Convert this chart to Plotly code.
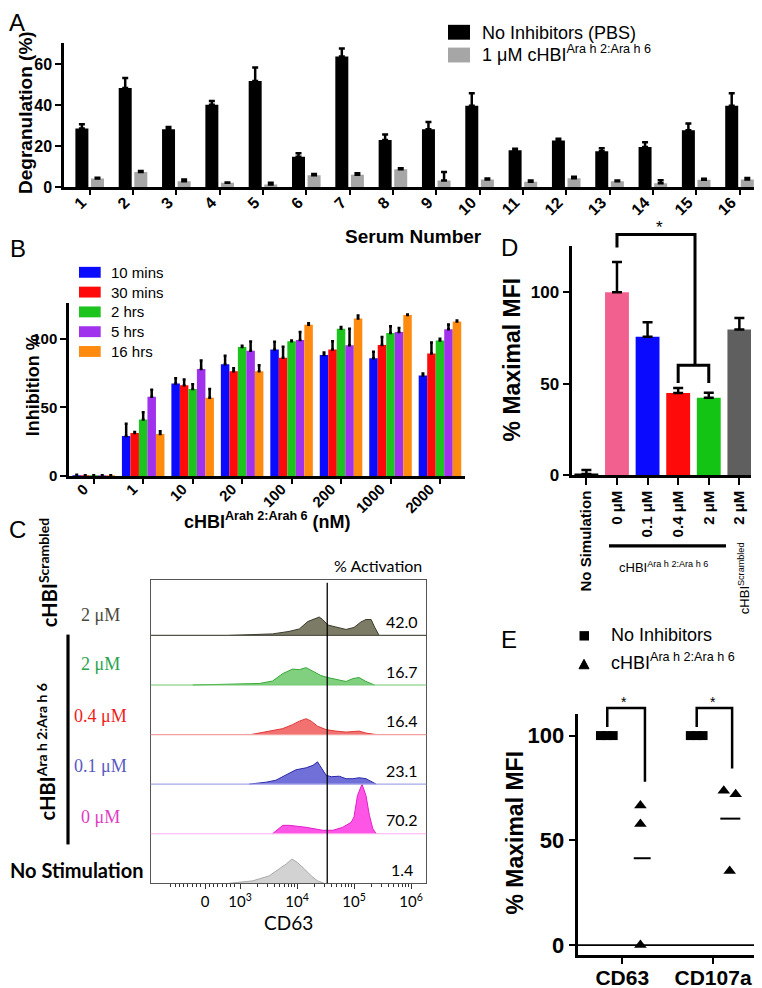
import numpy as np
import plotly.graph_objects as go

W, H = 762, 988
ARIAL = "Liberation Sans, Arial, sans-serif"
CAL = "Lato, Open Sans, sans-serif"
SERIF = "Liberation Serif, Times New Roman, serif"


def fx(p):
    return p / W


def fy(p):
    return 1 - p / H


def lin(rng, p0, p1):
    return lambda v: p0 + (v - rng[0]) / (rng[1] - rng[0]) * (p1 - p0)


# ---------------- Panel A data ----------------
serum_numbers = [str(i) for i in range(1, 17)]
degr_pbs = [28.6, 48.4, 28.3, 40.2, 51.8, 14.8, 63.7, 23.0, 28.3, 39.7, 18.0, 22.8, 17.5, 19.6, 27.8, 39.7]
degr_pbs_err = [2.1, 4.8, 1.0, 1.8, 6.6, 1.8, 4.0, 2.7, 3.5, 6.1, 0.8, 0.8, 1.5, 2.3, 3.2, 6.1]
degr_chbi = [4.2, 7.4, 2.9, 2.1, 1.3, 5.8, 6.1, 8.7, 3.2, 3.7, 2.7, 4.3, 2.9, 1.9, 3.6, 3.7]
degr_chbi_err = [0.4, 0.5, 0.8, 0.2, 0.8, 0.6, 0.7, 0.5, 4.2, 0.5, 0.5, 0.8, 0.3, 1.5, 0.5, 0.8]

# ---------------- Panel B data ----------------
conc_labels = ["0", "1", "10", "20", "100", "200", "1000", "2000"]
time_labels = ["10 mins", "30 mins", "2 hrs", "5 hrs", "16 hrs"]
inh_10m = [0.4, 29.1, 67.3, 81.3, 92.1, 88.0, 85.6, 73.1]
inh_10m_err = [0.4, 8.9, 3.9, 6.2, 5.5, 1.9, 4.8, 1.4]
inh_30m = [0.2, 31.3, 66.1, 76.2, 86.1, 92.1, 95.4, 89.2]
inh_30m_err = [0.3, 0.7, 4.1, 2.2, 7.9, 6.0, 5.8, 7.9]
inh_2h = [0.2, 41.1, 63.2, 93.8, 98.1, 107.2, 104.1, 98.6]
inh_2h_err = [0.3, 5.3, 3.6, 0.9, 0.5, 1.2, 4.8, 1.2]
inh_5h = [0.2, 57.7, 77.9, 91.1, 99.0, 95.2, 104.8, 106.7]
inh_5h_err = [0.3, 5.0, 6.2, 6.7, 5.8, 12.0, 2.9, 3.6]
inh_16h = [0.2, 30.5, 57.0, 76.2, 110.1, 114.7, 117.1, 112.5]
inh_16h_err = [0.3, 2.0, 6.2, 4.3, 1.0, 2.1, 0.4, 0.7]
time_colors = ["#0a0aff", "#ff0a0a", "#1ec41e", "#a032ee", "#ff8a10"]

# ---------------- Panel C data (display units ~ log10 CD63, height fraction of row) ----------------
c_tick_vals = [2.386, 3, 4, 5, 6]
c_tick_text = ["0", "10<sup>3</sup>", "10<sup>4</sup>", "10<sup>5</sup>", "10<sup>6</sup>"]
c_gate = 4.53
c_pct = ["1.4", "70.2", "23.1", "16.4", "16.7", "42.0"]  # rows bottom -> top
h_nostim_x = [2.81, 3.22, 3.51, 3.69, 3.81, 3.91, 4.01, 4.13, 4.25, 4.36, 4.48]
h_nostim_y = [0.0, 0.05, 0.15, 0.29, 0.39, 0.49, 0.42, 0.29, 0.15, 0.05, 0.0]
h_0uM_x = [3.57, 3.75, 3.86, 4.16, 4.45, 4.63, 4.80, 4.95, 5.00, 5.06, 5.14, 5.21, 5.27, 5.33, 5.39]
h_0uM_y = [0.0, 0.17, 0.17, 0.13, 0.07, 0.07, 0.13, 0.23, 0.34, 0.77, 1.0, 0.77, 0.37, 0.1, 0.0]
h_01uM_x = [3.16, 3.46, 3.63, 3.81, 3.98, 4.16, 4.28, 4.36, 4.42, 4.51, 4.60, 4.74, 4.86, 4.98, 5.09, 5.21, 5.39]
h_01uM_y = [0.0, 0.04, 0.08, 0.18, 0.29, 0.33, 0.38, 0.45, 0.33, 0.18, 0.15, 0.16, 0.11, 0.11, 0.13, 0.11, 0.0]
h_04uM_x = [3.19, 3.34, 3.57, 3.75, 3.92, 4.04, 4.16, 4.25, 4.36, 4.51, 4.68, 4.86, 5.09, 5.21, 5.39]
h_04uM_y = [0.0, 0.03, 0.07, 0.12, 0.20, 0.27, 0.32, 0.27, 0.17, 0.10, 0.07, 0.05, 0.07, 0.03, 0.0]
h_2uM_x = [2.17, 2.52, 2.99, 3.34, 3.57, 3.75, 3.92, 4.04, 4.16, 4.28, 4.42, 4.54, 4.68, 4.86, 4.98, 5.09, 5.21, 5.36]
h_2uM_y = [0.0, 0.01, 0.01, 0.03, 0.08, 0.23, 0.32, 0.31, 0.35, 0.27, 0.19, 0.15, 0.11, 0.07, 0.13, 0.15, 0.07, 0.0]
h_scr_x = [2.81, 3.04, 3.57, 3.86, 4.04, 4.19, 4.28, 4.39, 4.45, 4.54, 4.68, 4.86, 5.00, 5.12, 5.21, 5.30, 5.36, 5.44]
h_scr_y = [0.0, 0.01, 0.03, 0.08, 0.13, 0.28, 0.32, 0.37, 0.32, 0.21, 0.17, 0.12, 0.16, 0.27, 0.32, 0.32, 0.17, 0.0]

# ---------------- Panel D data ----------------
d_labels = ["No Simulation", "0 \u03bcM", "0.1 \u03bcM", "0.4 \u03bcM", "2 \u03bcM", "2 \u03bcM"]
mfi = [0.5, 100.0, 75.6, 44.8, 42.3, 79.6]
mfi_err = [2.2, 16.6, 8.0, 2.8, 2.7, 6.3]
d_colors = ["#000000", "#f2608f", "#0a0aff", "#ff0a0a", "#14c414", "#5f5f5f"]

# ---------------- Panel E data ----------------
e_markers = ["CD63", "CD107a"]
noinh_cd63 = [100, 100, 100]
noinh_cd107a = [100, 100, 100]
chbi_cd63 = [66.6, 57.8, 0.0]
chbi_cd107a = [73.7, 72.0, 35.4]

fig = go.Figure()

# ---------- axis geometry (ranges + pixel boxes) ----------
A_xr, A_yr, A_px, A_py = [-0.593, 15.45], [0, 70.5], (56, 751), (181, 35)
B_xr, B_yr, B_px, B_py = [-0.5, 7.5], [0, 125.7], (61, 456.7), (472.7, 298.3)
C_xr, C_yr, C_px, C_py = [1.433, 6.268], [0, 6.12], (142.7, 418.3), (884.3, 577.7)
D_xr, D_yr, D_px, D_py = [-0.46, 5.38], [0, 125.6], (564.3, 743.0), (471.7, 240.0)
E_xr, E_yr, E_px, E_py = [-0.484, 1.495], [-4.72, 110.4], (570.3, 750.0), (956.7, 713.0)


def dom_x(px):
    return [fx(px[0]), fx(px[1])]


def dom_y(py):
    return [fy(py[0]), fy(py[1])]


def eb(arr, w, th=2.5):
    return dict(type="data", array=arr, arrayminus=[0] * len(arr), symmetric=False,
                color="black", thickness=th, width=w)


# ---------- Panel A ----------
xa = list(range(len(serum_numbers)))
fig.add_bar(x=xa, y=degr_pbs, width=0.30, offset=-0.33, marker=dict(color="black", line=dict(width=0)),
            error_y=eb(degr_pbs_err, 3), xaxis="x", yaxis="y", name="No Inhibitors (PBS)")
fig.add_bar(x=xa, y=degr_chbi, width=0.30, offset=0.03, marker=dict(color="#a6a6a6", line=dict(width=0)),
            error_y=eb(degr_chbi_err, 3), xaxis="x", yaxis="y", name="1 \u03bcM cHBI")

# ---------- Panel B ----------
xb = list(range(len(conc_labels)))
series_b = [(inh_10m, inh_10m_err), (inh_30m, inh_30m_err), (inh_2h, inh_2h_err),
            (inh_5h, inh_5h_err), (inh_16h, inh_16h_err)]
bw = 0.172
for k, ((vals, errs), col, nm) in enumerate(zip(series_b, time_colors, time_labels)):
    fig.add_bar(x=xb, y=vals, width=bw, offset=-0.43 + k * bw,
                marker=dict(color=col, line=dict(width=0)), error_y=eb(errs, 1.5, 2.5),
                xaxis="x2", yaxis="y2", name=nm)

# ---------- Panel C ----------
c_rows = [
    (h_nostim_x, h_nostim_y, "#d2d2d2", "#a8a8a8", None),
    (h_0uM_x, h_0uM_y, "#ff55e6", "#e21fc8", "#ffb0f0"),
    (h_01uM_x, h_01uM_y, "#7070d8", "#2a2aaa", "#a8a8e8"),
    (h_04uM_x, h_04uM_y, "#f27272", "#e03a3a", "#f4a0a0"),
    (h_2uM_x, h_2uM_y, "#80d080", "#3aa83a", "#70c870"),
    (h_scr_x, h_scr_y, "#7c7c66", "#3a3a2c", "#55554a"),
]
for i, (hx, hy, fillc, linec, basec) in enumerate(c_rows):
    fig.add_scatter(x=hx, y=[i + v for v in hy], mode="lines", fill="toself", fillcolor=fillc,
                    line=dict(color=linec, width=1), xaxis="x3", yaxis="y3", hoverinfo="skip")

# ---------- Panel D ----------
xd = list(range(len(d_labels)))
fig.add_bar(x=xd, y=mfi, width=0.78, offset=-0.39, marker=dict(color=d_colors, line=dict(width=0)),
            error_y=eb(mfi_err, 5, 2.5), xaxis="x4", yaxis="y4")

# ---------- Panel E ----------
sq_off = [[-0.24, -0.17, -0.10], [-0.25, -0.18, -0.11]]
tri_off = [[0.2, 0.2, 0.2], [0.118, 0.249, 0.183]]
for i, (noi, chb) in enumerate([(noinh_cd63, chbi_cd63), (noinh_cd107a, chbi_cd107a)]):
    fig.add_scatter(x=[i + o for o in sq_off[i]], y=noi, mode="markers",
                    marker=dict(symbol="square", size=9, color="black"), xaxis="x5", yaxis="y5",
                    cliponaxis=False)
    fig.add_scatter(x=[i + o for o in tri_off[i]], y=chb, mode="markers",
                    marker=dict(symbol="triangle-up", size=11, color="black"), xaxis="x5", yaxis="y5",
                    cliponaxis=False)


def axstyle(**kw):
    d = dict(showline=True, linecolor="black", linewidth=2.5, ticks="outside", ticklen=5, tickwidth=2,
             tickcolor="black", showgrid=False, zeroline=False, fixedrange=True)
    d.update(kw)
    return d


def tf(size, bold=True, family=ARIAL, color="black"):
    return dict(family=family, size=size, color=color, weight="bold" if bold else "normal")


layout = dict(
    width=W, height=H, margin=dict(l=0, r=0, t=0, b=0), paper_bgcolor="white", plot_bgcolor="white",
    showlegend=False, barmode="overlay", font=dict(family=ARIAL, color="black"),
    xaxis=axstyle(domain=dom_x(A_px), range=A_xr, anchor="y", tickmode="array", tickvals=xa,
                  ticktext=serum_numbers, tickangle=-45, tickfont=tf(16),
                  ticklabelshift=-8, ticklabelstandoff=-8),
    yaxis=axstyle(domain=dom_y(A_py), range=A_yr, anchor="x", tickvals=[0, 20, 40, 60], tickfont=tf(16),
                  ticklen=6),
    xaxis2=axstyle(domain=dom_x(B_px), range=B_xr, anchor="y2", tickmode="array", tickvals=xb,
                   ticktext=conc_labels, tickangle=-45, tickfont=tf(15),
                   ticklabelshift=-10, ticklabelstandoff=-9),
    yaxis2=axstyle(domain=dom_y(B_py), range=B_yr, anchor="x2", tickvals=[0, 50, 100], tickfont=tf(15),
                   ticklen=6),
    xaxis3=dict(domain=dom_x(C_px), range=C_xr, anchor="y3", showline=True, mirror=True, linecolor="#555555",
                linewidth=1, ticks="outside", ticklen=5, tickwidth=1, tickcolor="#333333", tickmode="array",
                tickvals=c_tick_vals, ticktext=c_tick_text, tickfont=tf(15, False, CAL), showgrid=False,
                zeroline=False, fixedrange=True,
                minor=dict(ticks="outside", ticklen=3, tickwidth=1, tickcolor="#333333", tickmode="array",
                           tickvals=[2.386 + s * 0.075 * k for k in range(1, 9) for s in (-1, 1)
                                     if 2.386 + s * 0.075 * k < 2.95]
                           + [np.log10(m * 10 ** d) for d in (3, 4, 5) for m in range(2, 10)])),
    yaxis3=dict(domain=dom_y(C_py), range=C_yr, anchor="x3", showline=True, mirror=True, linecolor="#555555",
                linewidth=1, ticks="", showticklabels=False, showgrid=False, zeroline=False, fixedrange=True),
    xaxis4=axstyle(domain=dom_x(D_px), range=D_xr, anchor="y4", tickmode="array", tickvals=xd,
                   ticktext=d_labels, tickangle=-90, tickfont=tf(15), ticklen=7),
    yaxis4=axstyle(domain=dom_y(D_py), range=D_yr, anchor="x4", tickvals=[0, 50, 100], tickfont=tf(17),
                   ticklen=7),
    xaxis5=axstyle(domain=dom_x(E_px), range=E_xr, anchor="y5", tickmode="array", tickvals=[0, 1],
                   ticktext=e_markers, tickfont=tf(21), ticklen=6, ticklabelstandoff=-4),
    yaxis5=axstyle(domain=dom_y(E_py), range=E_yr, anchor="x5", tickvals=[0, 50, 100], tickfont=tf(22),
                   ticklen=7),
)
fig.update_layout(**layout)

shapes = []
annotations = []


def ann(text, x, y, size, bold=False, family=ARIAL, color="black", angle=0, xanchor="center",
        yanchor="middle"):
    annotations.append(dict(text=text, x=fx(x), y=fy(y), xref="paper", yref="paper", showarrow=False,
                            font=dict(family=family, size=size, color=color,
                                      weight="bold" if bold else "normal"),
                            textangle=angle, xanchor=xanchor, yanchor=yanchor, borderpad=0))


def seg(x0, y0, x1, y1, w=2.5, color="black"):
    shapes.append(dict(type="line", xref="paper", yref="paper", x0=fx(x0), y0=fy(y0), x1=fx(x1), y1=fy(y1),
                       line=dict(color=color, width=w)))


def poly(pts, w=2.5, color="black", fill=None):
    path = "M " + " L ".join(f"{fx(px):.5f},{fy(py):.5f}" for px, py in pts)
    if fill:
        path += " Z"
    shapes.append(dict(type="path", xref="paper", yref="paper", path=path,
                       line=dict(color=color, width=w), fillcolor=fill if fill else "rgba(0,0,0,0)"))


def rect(x0, y0, x1, y1, color):
    shapes.append(dict(type="rect", xref="paper", yref="paper", x0=fx(x0), y0=fy(y0), x1=fx(x1), y1=fy(y1),
                       line=dict(width=0), fillcolor=color))


# panel letters
for letter, (lx, ly) in zip("ABCDE", [(9, 15), (10, 243), (9, 527), (501, 242), (501, 638)]):
    ann(letter, lx, ly, 24)

# ---- A texts / legend ----
ann("Degranulation (%)", 18, 106, 19, bold=True, angle=-90)
ann("Serum Number", 405, 231, 19, bold=True)
rect(440, 17, 462, 32, "black")
rect(440, 40, 462, 55, "#a6a6a6")
ann("No Inhibitors (PBS)", 473, 25, 18, xanchor="left")
ann("1 \u03bcM cHBI<sup>Ara h 2:Ara h 6</sup>", 473, 46, 18, xanchor="left")

# ---- B texts / legend ----
ann("Inhibition %", 25, 381, 18, bold=True, angle=-90)
ann("cHBI<sup>Arah 2:Arah 6</sup> (nM)", 259, 518, 18, bold=True)
for k, (nm, col) in enumerate(zip(time_labels, time_colors)):
    yc = 267 + 20 * k
    rect(71, yc - 5.5, 92.7, yc + 5.5, col)
    ann(nm, 101.5, yc, 15, xanchor="left")

# ---- C texts ----
cX = lin(C_xr, *C_px)
cY = lin(C_yr, *C_py)
for i, (hx, hy, fillc, linec, basec) in enumerate(c_rows):
    if basec:
        seg(C_px[0], cY(i), C_px[1], cY(i), 1.2, basec)
    ann(c_pct[i], cX(5.85), cY(i + 0.28), 16, family=CAL)
seg(cX(c_gate), C_py[1] + 3, cX(c_gate), C_py[0], 1.3, "black")
ann("% Activation", 370, 563, 16, family=CAL)
ann("CD63", 280, 924, 19, family=CAL)
c_lab = [("No Stimulation", "black"), ("0 \u03bcM", "#e03cc4"), ("0.1 \u03bcM", "#5a5ac0"),
         ("0.4 \u03bcM", "#ee1c1c"), ("2 \u03bcM", "#2aa44e"), ("2 \u03bcM", "#4a4a3c")]
c_lab_y = [0.27, 1.34, 2.36, 3.38, 4.42, 5.41]
for (txt, col), yy in zip(c_lab, c_lab_y):
    if txt == "No Stimulation":
        ann(txt, 137, cY(yy), 20, bold=True, family=CAL, xanchor="right")
    else:
        ann(txt, 92, cY(yy), 18, family=SERIF, color=col)
ann("cHBI<sup>Scrambled</sup>", 40, 571, 20, bold=True, family=CAL, angle=-90)
ann("cHBI<sup>Ara h 2:Ara h 6</sup>", 38, 752, 20, bold=True, family=CAL, angle=-90)
seg(60, 633, 60, 845, 3.2)

# ---- D texts / brackets ----
dX = lin(D_xr, *D_px)
dY = lin(D_yr, *D_py)
ann("% Maximal MFI", 504, 355, 23, bold=True, angle=-90)
seg(601, 543.3, 718, 543.3, 3.2)
ann("cHBI<sup>Ara h 2:Ara h 6</sup>", 655, 565, 13)
ann("cHBI<sup>Scrambled</sup>", 736, 576, 13, angle=-90)
br_lo = (3, 4, 60.1, 50.4)
br_hi = (1, 3.55, 131.6, 124.6)
poly([(dX(br_lo[0]), dY(br_lo[3])), (dX(br_lo[0]), dY(br_lo[2])), (dX(br_lo[1]), dY(br_lo[2])),
      (dX(br_lo[1]), dY(br_lo[3]))], 3)
poly([(dX(br_hi[0]), dY(br_hi[3])), (dX(br_hi[0]), dY(br_hi[2])), (dX(br_hi[1]), dY(br_hi[2])),
      (dX(br_hi[1]), dY(br_lo[2]))], 3)
ann("*", dX(2.4), dY(137.6) + 4, 17)

# ---- E texts / legend / brackets ----
eX = lin(E_xr, *E_px)
eY = lin(E_yr, *E_py)
ann("% Maximal MFI", 507, 833, 23, bold=True, angle=-90)
seg(564, eY(0), E_px[1], eY(0), 1.8)
rect(571.5, 629.5, 581, 639, "black")
poly([(571, 667.5), (581, 667.5), (576, 658)], 1, "black", "black")
ann("No Inhibitors", 601.5, 633, 18, xanchor="left")
ann("cHBI<sup>Ara h 2:Ara h 6</sup>", 601.5, 660, 18, xanchor="left")
e_off = [(0.22, 0.093), (0.19, 0.11)]
for i, vals in enumerate([chbi_cd63, chbi_cd107a]):
    m = float(np.mean(vals))
    c, hw = e_off[i]
    seg(eX(i + c - hw), eY(m), eX(i + c + hw), eY(m), 2)
e_br = [(-0.165, 0.25, 113.1, 104.1, 78.0), (0.82, 1.21, 113.1, 104.1, 84.3)]
for xl, xr, top, lf, rf in e_br:
    poly([(eX(xl), eY(lf)), (eX(xl), eY(top)), (eX(xr), eY(top)), (eX(xr), eY(rf))], 2.5)
    ann("*", eX((xl + xr) / 2 - 0.02), eY(117.7) + 4, 14)

fig.update_layout(shapes=shapes, annotations=annotations)
fig.write_html("out.html")
